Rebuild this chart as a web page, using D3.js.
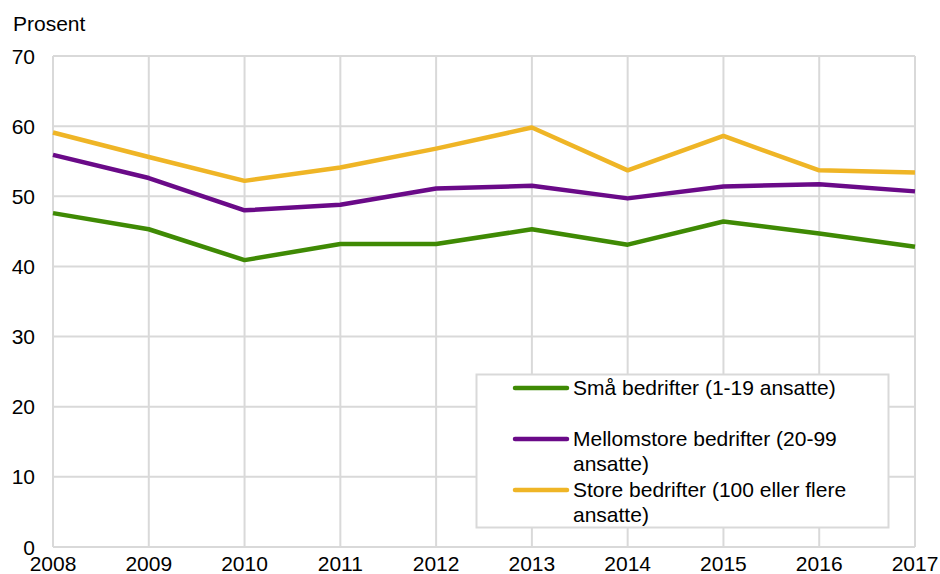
<!DOCTYPE html>
<html lang="no">
<head>
    <meta charset="UTF-8">
    <title>Bedrifter etter størrelse</title>
    <script src="https://d3js.org/d3.v7.min.js"></script>
    <style>
        body {
            margin: 0;
            padding: 0;
            background: #fff;
            font-family: "Liberation Sans", Arial, sans-serif;
        }
        svg text {
            fill: #000;
            font-size: 21px;
        }
    </style>
</head>
<body>
    <svg id="chart" width="940" height="574"></svg>

    <script>
        // data
        const years = [2008, 2009, 2010, 2011, 2012, 2013, 2014, 2015, 2016, 2017];
        const smaa = [47.6, 45.3, 40.9, 43.2, 43.2, 45.3, 43.1, 46.4, 44.7, 42.8];
        const mellomstore = [55.9, 52.6, 48.0, 48.8, 51.1, 51.5, 49.7, 51.4, 51.7, 50.7];
        const store = [59.1, 55.6, 52.2, 54.1, 56.8, 59.8, 53.7, 58.6, 53.7, 53.4];
        const yTicks = [0, 10, 20, 30, 40, 50, 60, 70];

        const seriesNames = [
            ["Små bedrifter (1-19 ansatte)"],
            ["Mellomstore bedrifter (20-99", "ansatte)"],
            ["Store bedrifter (100 eller flere", "ansatte)"]
        ];
        const seriesColors = ["#3f8a04", "#6a0a88", "#efb526"];
        const seriesValues = [smaa, mellomstore, store];

        const margin = {left: 53, right: 25, top: 56, bottom: 27};
        const width = 940, height = 574;

        const svg = d3.select("#chart");

        const x = d3.scaleLinear()
            .domain([2008, 2017])
            .range([margin.left, width - margin.right]);
        const y = d3.scaleLinear()
            .domain([0, 70])
            .range([height - margin.bottom, margin.top]);

        // grid
        const grid = svg.append("g")
            .attr("stroke", "#d9d9d9")
            .attr("stroke-width", 2);
        grid.selectAll("line.h")
            .data(yTicks)
            .join("line")
            .attr("class", "h")
            .attr("x1", x(2008)).attr("x2", x(2017))
            .attr("y1", d => y(d)).attr("y2", d => y(d));
        grid.selectAll("line.v")
            .data(years)
            .join("line")
            .attr("class", "v")
            .attr("x1", d => x(d)).attr("x2", d => x(d))
            .attr("y1", y(0)).attr("y2", y(70));

        // y labels
        svg.append("g")
            .selectAll("text")
            .data(yTicks)
            .join("text")
            .attr("x", 35)
            .attr("y", d => y(d) + 7.5)
            .attr("text-anchor", "end")
            .text(d => d);

        // x labels
        svg.append("g")
            .selectAll("text")
            .data(years)
            .join("text")
            .attr("x", d => x(d))
            .attr("y", 571)
            .attr("text-anchor", "middle")
            .text(d => d);

        svg.append("text")
            .attr("x", 13)
            .attr("y", 31)
            .text("Prosent");

        // lines
        const line = d3.line()
            .x((d, i) => x(years[i]))
            .y(d => y(d));

        svg.append("g")
            .selectAll("path")
            .data(seriesValues)
            .join("path")
            .attr("fill", "none")
            .attr("stroke", (d, i) => seriesColors[i])
            .attr("stroke-width", 4.5)
            .attr("stroke-linejoin", "round")
            .attr("d", line);

        // legend
        const legend = svg.append("g");
        legend.append("rect")
            .attr("x", 476.5).attr("y", 374.5)
            .attr("width", 412).attr("height", 153)
            .attr("fill", "#fff")
            .attr("stroke", "#d9d9d9")
            .attr("stroke-width", 2);

        const rowY = [388, 439, 490];
        const item = legend.selectAll("g")
            .data(seriesNames)
            .join("g")
            .attr("transform", (d, i) => `translate(0,${rowY[i]})`);
        item.append("line")
            .attr("x1", 515).attr("x2", 567)
            .attr("stroke", (d, i) => seriesColors[i])
            .attr("stroke-width", 4.5)
            .attr("stroke-linecap", "round");
        item.append("text")
            .attr("x", 573)
            .attr("y", 7)
            .selectAll("tspan")
            .data(d => d)
            .join("tspan")
            .attr("x", 573)
            .attr("dy", (d, i) => i === 0 ? 0 : 25)
            .text(d => d);
    </script>
</body>
</html>
